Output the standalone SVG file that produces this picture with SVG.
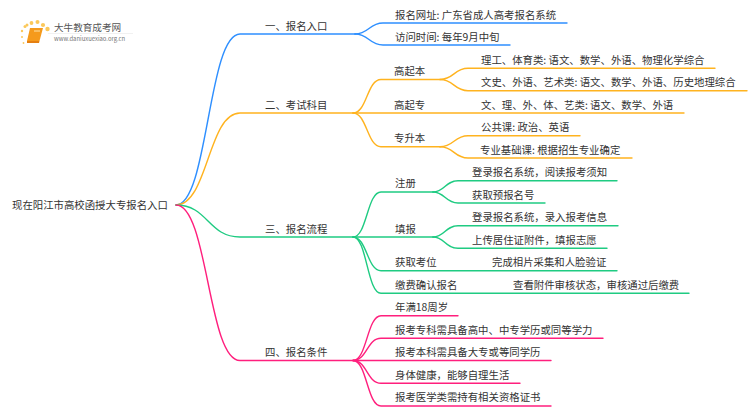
<svg xmlns="http://www.w3.org/2000/svg" width="750" height="410" viewBox="0 0 750 410">
<style>
text{font-family:"Noto Sans CJK SC","Noto Sans",sans-serif;font-size:10.4px;fill:#333}
.c{fill:none;stroke-width:1.4;stroke-linecap:round}
.b{stroke:#2e8fff}.o{stroke:#ffb31f}.g{stroke:#1fcb82}.p{stroke:#ff1f7d}
.dot{fill:#fbc85a}
</style>
<rect width="750" height="410" fill="#fff"/>
<g id="logo">
<circle class="dot" cx="22" cy="31" r="1.200"/><circle class="dot" cx="25" cy="26.500" r="1.500"/><circle class="dot" cx="27" cy="25" r="1.500"/><circle class="dot" cx="31.500" cy="23" r="1.900"/><circle class="dot" cx="37.500" cy="22" r="2"/><circle class="dot" cx="43" cy="25" r="2.100"/><circle class="dot" cx="47.500" cy="29" r="2.200"/><circle class="dot" cx="22" cy="37" r="1"/><circle class="dot" cx="23.500" cy="43" r="0.900"/>
<path d="M30 28H43L39.500 41H27Z" fill="#f59a1c"/><path d="M27 41H39.500L39 43H27Z" fill="#e57f10"/>
<path d="M34 31H40" stroke="#fde2a8" stroke-width="1"/>
<text x="54" y="31" style="font-size:9.600px;fill:#555">大牛教育成考网</text>
<path d="M48 33.500H133" stroke="#eeeeee" stroke-width="0.800"/>
<text x="54" y="41" style="font-size:5.900px;fill:#777">www.daniuxuexiao.org.cn</text>
</g>
<g id="connectors">
<path class="c b" d="M176 205C208 205 208 34 240 34H355"/>
<path class="c o" d="M176 205C208 205 208 113 240 113H355"/>
<path class="c g" d="M176 205C208 205 208 237 240 237H355"/>
<path class="c p" d="M176 205C208 205 208 360.500 240 360.500H355"/>
<path class="c b" d="M355 34C369 34 369 23 383 23H567"/>
<path class="c b" d="M355 34C369 34 369 45 383 45H510"/>
<path class="c o" d="M353 113C367 113 367 79.500 381 79.500H440"/>
<path class="c o" d="M353 113H684"/>
<path class="c o" d="M353 113C367 113 367 146.700 381 146.700H440"/>
<path class="c o" d="M440 79.500C454 79.500 454 68.300 468 68.300H715"/>
<path class="c o" d="M440 79.500C454 79.500 454 90.700 468 90.700H747"/>
<path class="c o" d="M440 146.700C454 146.700 454 135.700 468 135.700H580"/>
<path class="c o" d="M440 146.700C454 146.700 454 158 468 158H632"/>
<path class="c g" d="M353 237C367 237 367 192 381 192H433"/>
<path class="c g" d="M353 237H433"/>
<path class="c g" d="M353 237C367 237 367 270.700 381 270.700H617"/>
<path class="c g" d="M353 237C367 237 367 293.300 381 293.300H689"/>
<path class="c g" d="M433 192C445 192 445 180.700 458 180.700H617"/>
<path class="c g" d="M433 192C445 192 445 203 458 203H545"/>
<path class="c g" d="M433 237C445 237 445 225.700 458 225.700H618"/>
<path class="c g" d="M433 237C445 237 445 248.300 458 248.300H607"/>
<path class="c p" d="M353 360.500C367 360.500 367 315.700 381 315.700H458"/>
<path class="c p" d="M353 360.500C367 360.500 367 338.300 381 338.300H603"/>
<path class="c p" d="M353 360.500H551"/>
<path class="c p" d="M353 360.500C367 360.500 367 383.300 381 383.300H520"/>
<path class="c p" d="M353 360.500C367 360.500 367 406 381 406H551"/>
</g>
<g id="root"><text x="12" y="209">现在阳江市高校函授大专报名入口</text></g>
<g id="n1"><text x="265" y="30">一、报名入口</text></g>
<g id="n2"><text x="265" y="108.500">二、考试科目</text></g>
<g id="n3"><text x="265" y="232.500">三、报名流程</text></g>
<g id="n4"><text x="265" y="356">四、报名条件</text></g>
<g id="n1-1"><text x="395" y="19">报名网址: 广东省成人高考报名系统</text></g>
<g id="n1-2"><text x="395" y="41">访问时间: 每年9月中旬</text></g>
<g id="n2-1"><text x="394" y="75">高起本</text></g>
<g id="n2-2"><text x="394" y="108.500">高起专</text></g>
<g id="n2-3"><text x="394" y="142">专升本</text></g>
<g id="n2-1-1"><text x="481" y="64">理工、体育类: 语文、数学、外语、物理化学综合</text></g>
<g id="n2-1-2"><text x="481" y="86">文史、外语、艺术类: 语文、数学、外语、历史地理综合</text></g>
<g id="n2-2-1"><text x="481" y="108.500">文、理、外、体、艺类: 语文、数学、外语</text></g>
<g id="n2-3-1"><text x="481" y="131">公共课: 政治、英语</text></g>
<g id="n2-3-2"><text x="480" y="153.500">专业基础课: 根据招生专业确定</text></g>
<g id="n3-1"><text x="395" y="187">注册</text></g>
<g id="n3-2"><text x="395" y="232.500">填报</text></g>
<g id="n3-3"><text x="395" y="266">获取考位</text></g>
<g id="n3-4"><text x="395" y="289">缴费确认报名</text></g>
<g id="n3-1-1"><text x="472" y="176">登录报名系统，阅读报考须知</text></g>
<g id="n3-1-2"><text x="472" y="198.500">获取预报名号</text></g>
<g id="n3-2-1"><text x="472" y="221">登录报名系统，录入报考信息</text></g>
<g id="n3-2-2"><text x="472" y="243.500">上传居住证附件，填报志愿</text></g>
<g id="n3-3-1"><text x="492" y="266">完成相片采集和人脸验证</text></g>
<g id="n3-4-1"><text x="513" y="289">查看附件审核状态，审核通过后缴费</text></g>
<g id="n4-1"><text x="395" y="311">年满18周岁</text></g>
<g id="n4-2"><text x="395" y="333.500">报考专科需具备高中、中专学历或同等学力</text></g>
<g id="n4-3"><text x="395" y="356">报考本科需具备大专或等同学历</text></g>
<g id="n4-4"><text x="395" y="378.500">身体健康，能够自理生活</text></g>
<g id="n4-5"><text x="395" y="401">报考医学类需持有相关资格证书</text></g>
</svg>
